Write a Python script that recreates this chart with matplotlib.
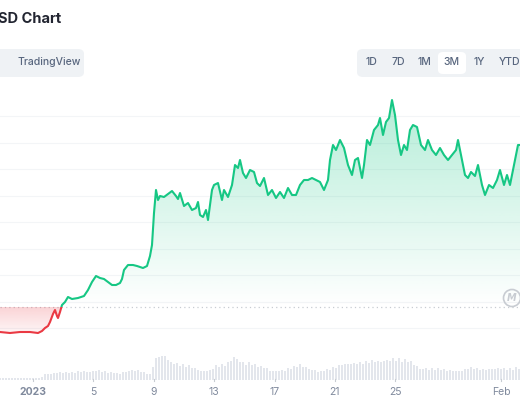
import numpy as np
import matplotlib
matplotlib.use("Agg")
import matplotlib.pyplot as plt
from matplotlib.patches import Polygon, Rectangle, FancyBboxPatch

# --- data ---
# horizontal position in screen px (converted to days below), price reading as screen px from top
x_px = [0,10,20,30,38,42,45,48,50,53,55,57,58,60,62,65,68,72,78,84,88,92,96,100,104,108,112,116,120,122,124,128,133,137,143,147,150,152,154,156,158,160,164,168,172,176,178,180,184,188,192,196,198,200,203,206,208,210,212,214,218,222,224,228,232,235,238,240,243,246,250,254,257,260,264,268,272,276,280,284,288,292,296,300,304,308,312,316,320,324,328,330,333,336,340,344,348,352,355,358,362,364,367,370,374,378,380,383,386,389,392,395,398,401,404,407,410,413,417,421,425,428,432,436,440,444,448,452,456,458,461,465,468,471,475,478,482,485,489,493,497,500,504,507,510,515,518,520]
y_px = [332,333,332,332,333,331,328,326,322,314,310,316,318,312,305,302,297,299,298,296,290,282,276,278,279,282,285,285,283,279,270,265,265,266,268,266,256,245,213,190,200,196,197,194,191,196,199,193,206,203,210,208,202,215,217,210,220,205,190,185,183,200,190,197,185,165,168,160,173,178,170,172,183,186,178,195,190,198,192,198,188,195,195,185,180,180,178,180,182,190,180,160,145,150,140,148,165,175,160,158,178,165,140,145,130,125,118,135,122,118,100,115,140,155,145,150,130,125,127,145,150,140,150,155,148,155,160,155,150,140,155,175,178,172,176,165,185,195,185,188,180,170,185,175,185,160,145,145]
vol_x_px = list(range(0, 521, 3))
vol_env_x = [0,40,45,60,90,100,110,120,130,140,150,155,160,165,170,180,190,200,210,215,225,235,240,245,250,260,265,270,280,290,300,305,310,320,330,340,350,360,370,380,390,400,410,420,430,440,450,460,470,480,490,500,510,520]
vol_env_h = [2,2,6,8,9,10,8,7,10,10,6,22,26,26,19,17,15,10,10,15,16,25,20,17,18,14,14,10,10,12,16,14,11,9,12,16,18,18,20,20,22,22,20,12,12,12,10,10,13,12,11,13,12,13]
baseline_y_px = 307
grid_y_px = [116,143,169,196,222,249,275,302,328]
tick_days = [1,5,9,13,17,21,25,32]
tick_labels = ["2023","5","9","13","17","21","25","Feb"]

PX_PER_DAY = 15.1
DAY0_PX = 33 - PX_PER_DAY  # pixel of Jan 0
def to_day(p): return (np.asarray(p, float) - DAY0_PX) / PX_PER_DAY
days = to_day(x_px)
price = 400 - np.asarray(y_px, float)
base = 400 - baseline_y_px
vdays = to_day(vol_x_px)
vol = np.interp(vol_x_px, vol_env_x, vol_env_h) * (0.85 + 0.15*np.cos(np.arange(len(vol_x_px))*1.7)**2)

GREEN = "#16c784"; RED = "#ea3943"
fig = plt.figure(figsize=(5.2, 4), dpi=100)
ax = fig.add_axes([0, 0, 1, 1])
xmin, xmax = float(to_day(0)), float(to_day(520))
ax.set_xlim(xmin, xmax); ax.set_ylim(0, 400)
ax.axis("off")

for g in grid_y_px:
    ax.axhline(400 - g, color="#f3f5f7", lw=0.8, zorder=0)
ax.axhline(base, color="#c8ccd2", lw=0.9, ls=(0, (1, 2.5)), zorder=1)

def grad(color, top, bottom, amax):
    n = 256
    rgb = matplotlib.colors.to_rgb(color)
    img = np.zeros((n, 1, 4)); img[..., :3] = rgb; img[..., 3] = np.linspace(amax, 0, n)[:, None]
    return ax.imshow(img, extent=[xmin, xmax, bottom, top], aspect="auto", zorder=1, origin="upper")

above = np.maximum(price, base)
below = np.minimum(price, base)
pg = Polygon(np.column_stack([np.r_[days, days[::-1]], np.r_[above, np.full(len(days), base)]]), closed=True, transform=ax.transData)
im = grad(GREEN, 300, base, 0.32); im.set_clip_path(pg)
pr = Polygon(np.column_stack([np.r_[days, days[::-1]], np.r_[np.full(len(days), base), below[::-1]]]), closed=True, transform=ax.transData)
im2 = grad(RED, base, 60, 0.22); im2.set_clip_path(pr)

lg, = ax.plot(days, price, color=GREEN, lw=1.5, zorder=3)
lr, = ax.plot(days, price, color=RED, lw=1.5, zorder=3)
rg = Rectangle((xmin, base), xmax - xmin, 400, transform=ax.transData)
rr = Rectangle((xmin, -10), xmax - xmin, base + 10, transform=ax.transData)
lg.set_clip_path(rg); lr.set_clip_path(rr)

ax.bar(vdays, vol, bottom=20, width=1.5/PX_PER_DAY, color="#e3e6ec", zorder=2)

for d, t in zip(tick_days, tick_labels):
    ax.text(d, 8, t, ha="center", va="center", fontsize=7.5, color="#808a9d", fontfamily="Inter",
            fontweight="bold" if t == "2023" else "normal")
    ax.plot([d, d], [19, 21.5], color="#c8ccd2", lw=0.8)

# header
fig.text(-0.003, 1 - 19/400, "SD Chart", fontsize=10.5, fontweight="bold", color="#222531", va="center", fontfamily="Inter")
fig.patches.append(FancyBboxPatch((-10/520, 1-77/400), 94/520, 28/400, boxstyle="round,pad=0,rounding_size=0.012",
                                  transform=fig.transFigure, fc="#eff2f5", ec="none"))
fig.text(17/520, 1-62/400, "TradingView", fontsize=7.5, color="#58667e", va="center", fontfamily="Inter", fontweight="medium")
fig.patches.append(FancyBboxPatch((357/520, 1-77/400), 175/520, 28/400, boxstyle="round,pad=0,rounding_size=0.012",
                                  transform=fig.transFigure, fc="#eff2f5", ec="none"))
fig.patches.append(FancyBboxPatch((438/520, 1-74/400), 28/520, 22/400, boxstyle="round,pad=0,rounding_size=0.01",
                                  transform=fig.transFigure, fc="white", ec="none"))
for lab, xp in zip(["1D","7D","1M","3M","1Y","YTD"], [372,398,424,452,479,510]):
    fig.text(xp/520, 1-62/400, lab, fontsize=7.5, color="#58667e", ha="center", va="center", fontfamily="Inter", fontweight="medium")

# watermark
fig.patches.append(matplotlib.patches.Ellipse((512/520, 1-298/400), 17/520, 17/400, transform=fig.transFigure, fc="none", ec="#c8ccd2", lw=1.2))
fig.text(512/520, 1-298/400, "M", fontsize=7, color="#c8ccd2", ha="center", va="center", fontstyle="italic", fontweight="bold")

fig.savefig("out.png", dpi=100)
